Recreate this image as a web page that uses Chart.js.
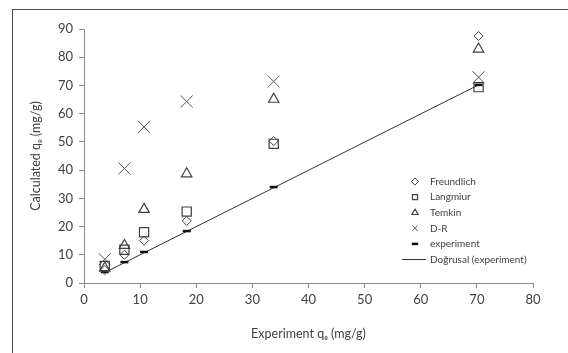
<!DOCTYPE html>
<html><head><meta charset="utf-8">
<script src="https://cdn.jsdelivr.net/npm/chart.js@4/dist/chart.umd.min.js"></script>
<style>html,body{margin:0;padding:0;background:#fff}#wrap{width:568px;height:353px}</style>
</head><body><div id="wrap"><canvas id="c" width="568" height="353"></canvas></div>
<script>
const xValues = [3.7, 7.2, 10.7, 18.3, 33.8, 70.3];
const freundlich = [4.6, 10.0, 15.0, 22.0, 50.3, 87.5];
const langmuir = [6.0, 11.8, 18.0, 25.3, 49.3, 69.4];
const temkin = [5.3, 13.3, 26.1, 38.7, 65.1, 82.9];
const dr = [8.4, 40.6, 55.3, 64.3, 71.4, 72.9];
const experiment = [3.9, 7.4, 11.0, 18.4, 34.0, 70.2];
const trendX = [3.7, 70.3];
const trendY = [3.7, 70.2];
const xTicks = [0, 10, 20, 30, 40, 50, 60, 70, 80];
const yTicks = [0, 10, 20, 30, 40, 50, 60, 70, 80, 90];
const seriesNames = ['Freundlich', 'Langmiur', 'Temkin', 'D-R', 'experiment', 'Doğrusal (experiment)'];

const pts = (ys, xs) => ys.map((y, i) => ({x: (xs || xValues)[i], y}));
const FONT = "Lato, 'DejaVu Sans', sans-serif";
const mk = '#404040';

const frame = {
  id: 'frame',
  beforeDraw(chart) {
    const ctx = chart.ctx;
    ctx.save();
    ctx.fillStyle = '#fff';
    ctx.fillRect(0, 0, chart.width, chart.height);
    ctx.strokeStyle = '#4a4a4a';
    ctx.lineWidth = 1;
    ctx.strokeRect(12.5, 9.5, chart.width + 20, chart.height + 20);
    ctx.restore();
  }
};

function sym(ctx, style, x, y, r) {
  ctx.beginPath();
  if (style === 'rectRot') {
    ctx.moveTo(x, y - r); ctx.lineTo(x + r, y); ctx.lineTo(x, y + r); ctx.lineTo(x - r, y); ctx.closePath();
  } else if (style === 'rect') {
    const s = r * Math.SQRT1_2; ctx.rect(x - s, y - s, 2 * s, 2 * s);
  } else if (style === 'triangle') {
    for (let k = 0; k < 3; k++) {
      const a = k * 2 * Math.PI / 3;
      const px = x + Math.sin(a) * r, py = y - Math.cos(a) * r;
      k ? ctx.lineTo(px, py) : ctx.moveTo(px, py);
    }
    ctx.closePath();
  } else if (style === 'crossRot') {
    const o = r * Math.SQRT1_2;
    ctx.moveTo(x - o, y - o); ctx.lineTo(x + o, y + o);
    ctx.moveTo(x + o, y - o); ctx.lineTo(x - o, y + o);
  } else if (style === 'line') {
    ctx.moveTo(x - r, y); ctx.lineTo(x + r, y);
  }
  ctx.stroke();
}

const legendPlugin = {
  id: 'customLegend',
  afterDraw(chart) {
    const ctx = chart.ctx;
    ctx.save();
    ctx.font = "10px " + FONT;
    ctx.fillStyle = '#404040';
    ctx.textBaseline = 'middle';
    ctx.textAlign = 'left';
    const x0 = 415, tx = 430, y0 = 181.5, dy = 15.6;
    chart.data.datasets.forEach((ds, i) => {
      const y = y0 + i * dy;
      ctx.strokeStyle = ds.borderColor;
      if (ds.showLine) {
        ctx.lineWidth = 1;
        ctx.beginPath(); ctx.moveTo(402, y); ctx.lineTo(426, y); ctx.stroke();
      } else {
        ctx.lineWidth = ds.pointBorderWidth;
        sym(ctx, ds.pointStyle, x0, y, Math.min(ds.pointRadius, 4.5) * (ds.pointStyle === 'crossRot' ? 0.85 : 0.8));
      }
      ctx.fillText(ds.label, tx, y);
    });
    ctx.restore();
  }
};

new Chart(document.getElementById('c'), {
  type: 'scatter',
  data: {
    datasets: [
      {label: seriesNames[0], data: pts(freundlich), pointStyle: 'rectRot', pointRadius: 4.5, pointBorderWidth: 1, borderColor: mk, backgroundColor: 'rgba(0,0,0,0)'},
      {label: seriesNames[1], data: pts(langmuir), pointStyle: 'rect', pointRadius: 6.5, pointBorderWidth: 1.2, borderColor: mk, backgroundColor: 'rgba(0,0,0,0)'},
      {label: seriesNames[2], data: pts(temkin), pointStyle: 'triangle', pointRadius: 6, pointBorderWidth: 1.2, borderColor: mk, backgroundColor: 'rgba(0,0,0,0)'},
      {label: seriesNames[3], data: pts(dr), pointStyle: 'crossRot', pointRadius: 8.5, pointBorderWidth: 1, borderColor: '#555', backgroundColor: 'rgba(0,0,0,0)'},
      {label: seriesNames[4], data: pts(experiment), pointStyle: 'line', pointRadius: 4, pointBorderWidth: 2.5, borderColor: '#111', backgroundColor: 'rgba(0,0,0,0)'},
      {label: seriesNames[5], data: pts(trendY, trendX), showLine: true, pointRadius: 0, borderWidth: 1, borderColor: '#333', backgroundColor: 'rgba(0,0,0,0)'}
    ]
  },
  options: {
    responsive: false,
    animation: false,
    layout: {padding: {left: 0, top: 29, right: 35, bottom: 0}},
    plugins: {legend: {display: false}, tooltip: {enabled: false}},
    scales: {
      x: {
        type: 'linear', min: 0, max: 80,
        afterFit(s) { s.height = 70; },
        afterBuildTicks(s) { s.ticks = xTicks.map(v => ({value: v})); },
        grid: {drawOnChartArea: false, drawTicks: true, tickLength: 5, color: '#8c8c8c'},
        border: {color: '#8c8c8c', width: 1},
        ticks: {font: {family: FONT, size: 13}, color: '#404040', padding: 4, maxRotation: 0},
        title: {display: true, text: 'Experiment qₑ (mg/g)', font: {family: FONT, size: 12.5}, color: '#404040', padding: {top: 0, bottom: 12}}
      },
      y: {
        type: 'linear', min: 0, max: 90,
        afterFit(s) { s.width = 84; },
        afterBuildTicks(s) { s.ticks = yTicks.map(v => ({value: v})); },
        grid: {drawOnChartArea: false, drawTicks: true, tickLength: 5, color: '#8c8c8c'},
        border: {color: '#8c8c8c', width: 1},
        ticks: {font: {family: FONT, size: 13}, color: '#404040', padding: 6},
        title: {display: true, text: 'Calculated qₑ (mg/g)', font: {family: FONT, size: 12.5}, color: '#404040', padding: {top: 28, bottom: 0}}
      }
    }
  },
  plugins: [frame, legendPlugin]
});
</script></body></html>
